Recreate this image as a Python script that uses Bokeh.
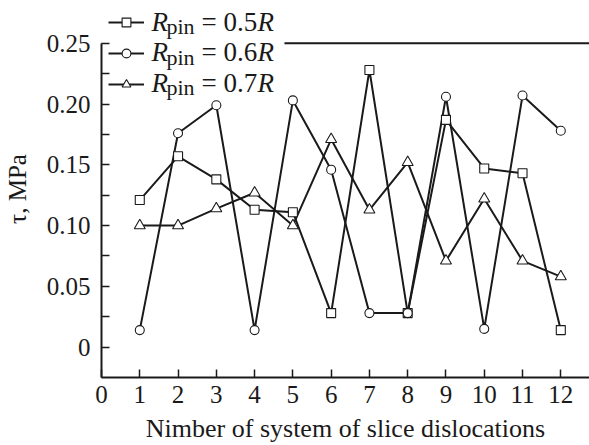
from bokeh.plotting import figure
from bokeh.models import (FixedTicker, Range1d, Legend, LegendItem, Label, Span,
                          BoxAnnotation, ColumnDataSource)
from bokeh.embed import file_html
from bokeh.resources import INLINE

systems = [1, 2, 3, 4, 5, 6, 7, 8, 9, 10, 11, 12]
tau_05 = [0.121, 0.157, 0.138, 0.113, 0.111, 0.028, 0.228, 0.028, 0.187, 0.147, 0.143, 0.014]
tau_06 = [0.014, 0.176, 0.199, 0.014, 0.203, 0.146, 0.028, 0.028, 0.206, 0.015, 0.207, 0.178]
tau_07 = [0.100, 0.100, 0.114, 0.127, 0.100, 0.171, 0.113, 0.152, 0.071, 0.122, 0.071, 0.058]
x_ticks = list(range(13))
y_ticks = [0, 0.05, 0.10, 0.15, 0.20, 0.25]
y_minor = [0.025, 0.075, 0.125, 0.175, 0.225]
y_tick_labels = {0: "0", 0.05: "0.05", 0.1: "0.10", 0.15: "0.15", 0.2: "0.20", 0.25: "0.25"}
legend_values = ["0.5", "0.6", "0.7"]
y_top = 0.25

FONT = "Liberation Serif"
INK = "#1a1a1a"

p = figure(width=589, height=445, x_range=Range1d(0, 12.75), y_range=Range1d(-0.025, 0.2852),
           output_backend="svg", toolbar_location=None,
           min_border_left=101, min_border_top=0, min_border_bottom=64, min_border_right=0,
           x_axis_label="Nimber of system of slice dislocations", y_axis_label="τ, MPa")
p.grid.visible = False
p.outline_line_color = None
p.background_fill_color = "white"
p.border_fill_color = "white"

xa = p.xaxis[0]
xa.ticker = FixedTicker(ticks=x_ticks)
ya = p.yaxis[0]
ya.ticker = FixedTicker(ticks=y_ticks, minor_ticks=y_minor)
ya.major_label_overrides = y_tick_labels
ya.bounds = (-0.025, y_top)
for ax in (xa, ya):
    ax.axis_line_width = 2
    ax.axis_line_color = INK
    ax.major_tick_in = 8
    ax.major_tick_out = 0
    ax.minor_tick_in = 8
    ax.minor_tick_out = 0
    ax.major_tick_line_width = 1.5
    ax.minor_tick_line_width = 1.5
    ax.major_tick_line_color = INK
    ax.minor_tick_line_color = INK
    ax.major_label_text_font = FONT
    ax.major_label_text_font_size = "25px"
    ax.major_label_text_color = INK
    ax.axis_label_text_font = FONT
    ax.axis_label_text_font_size = "25px"
    ax.axis_label_text_font_style = "normal"
    ax.axis_label_text_color = INK
xa.minor_tick_in = 0
xa.major_label_standoff = 8
xa.axis_label_standoff = 8
xa.axis_label_text_font_size = "26px"
ya.major_label_standoff = 11
ya.axis_label_standoff = 13

# top frame line, hidden behind the legend block on the left
p.add_layout(Span(location=y_top, dimension="width", line_color=INK, line_width=2,
                  level="underlay"))
p.add_layout(BoxAnnotation(right=4.78, bottom=0.243, fill_color="white", fill_alpha=1.0,
                           line_color=None, level="underlay"))

series = [(tau_05, "square", 9), (tau_06, "circle", 9), (tau_07, "triangle", 11)]
lines = []
for vals, _, _ in series:
    src = ColumnDataSource(dict(x=systems, y=vals))
    lines.append(p.line("x", "y", source=src, line_color=INK, line_width=2))
marks = []
for vals, m, s in series:
    src = ColumnDataSource(dict(x=systems, y=vals))
    marks.append(p.scatter("x", "y", source=src, marker=m, size=s, fill_color="white",
                           line_color=INK, line_width=1.1))

legend = Legend(items=[LegendItem(label="", renderers=[lines[i], marks[i]]) for i in range(3)],
                location=(7, 278), orientation="vertical", padding=3, margin=0, spacing=0,
                glyph_width=36, glyph_height=22, label_height=31, label_width=134,
                label_standoff=0, background_fill_alpha=0.0,
                border_line_color=None, label_text_font_size="1px")
p.add_layout(legend, "center")

row_base = [356, 325.5, 295]
for i, v in enumerate(legend_values):
    yb = row_base[i]
    parts = [(50, 0, "R", "27px", "italic"), (65, -5, "pin", "22px", "normal"),
             (100, 0, "= " + v, "27px", "normal"), (156, 0, "R", "27px", "italic")]
    for dx, dy, t, fs, st in parts:
        p.add_layout(Label(x=dx, y=yb + dy, x_units="screen", y_units="screen", text=t,
                           text_font=FONT, text_font_size=fs, text_font_style=st,
                           text_color=INK, text_baseline="alphabetic"))

open("out.html", "w").write(file_html(p, INLINE))
